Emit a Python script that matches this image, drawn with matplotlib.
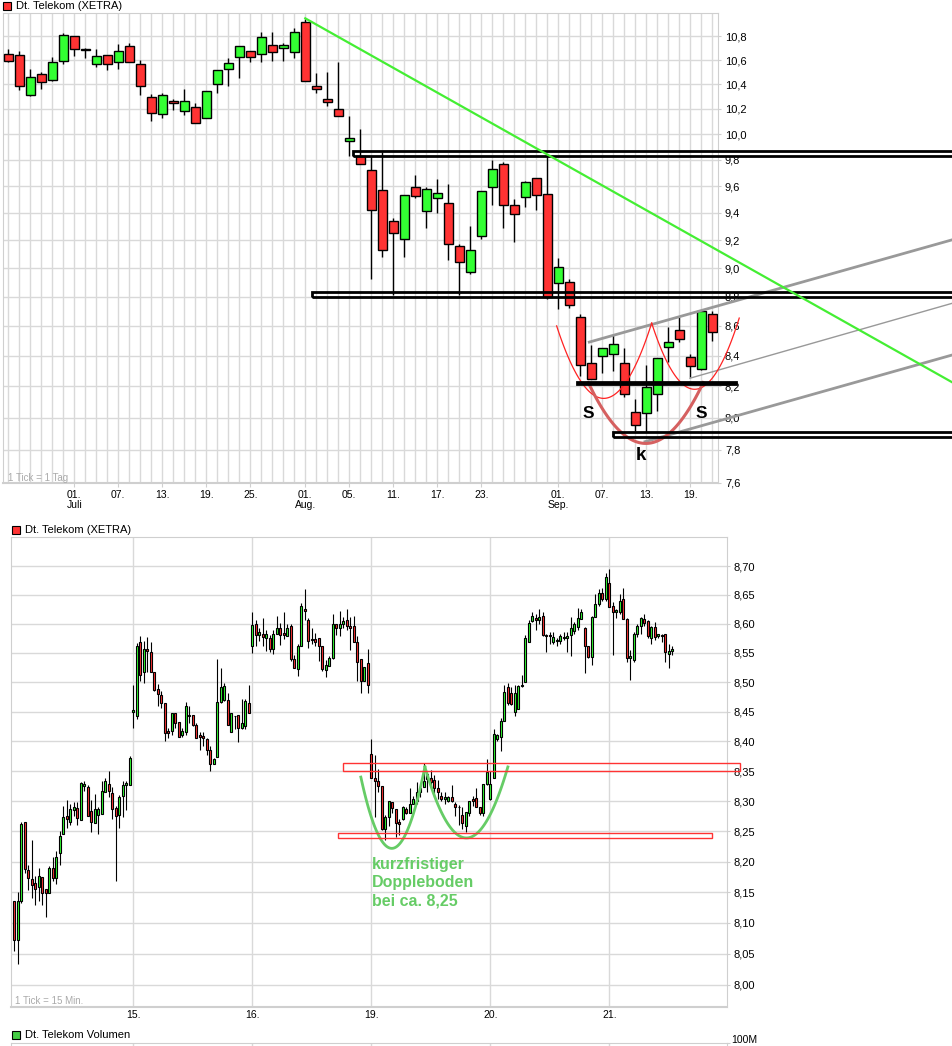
import numpy as np
import matplotlib
matplotlib.use('Agg')
import matplotlib.pyplot as plt
from matplotlib.patches import Rectangle
from matplotlib.ticker import FixedLocator, NullLocator, FuncFormatter

plt.rcParams['font.family'] = ['Liberation Sans', 'DejaVu Sans']

W, H = 953, 1046
RED = '#ff3333'
GREEN = '#33ff33'
GRID = '#d9d9d9'
FRAME = '#cfcfcf'

# ---- daily candles, 23.06.2011 - 21.09.2011 (one per trading day) ----
d_open = [10.655, 10.645, 10.315, 10.485, 10.435, 10.595, 10.805, 10.692, 10.565, 10.645,
          10.588, 10.722, 10.57, 10.297, 10.16, 10.263, 10.185, 10.217, 10.13, 10.40,
          10.525, 10.625, 10.68, 10.647, 10.73, 10.705, 10.67, 10.925, 10.385, 10.277,
          10.20, 9.95, 9.83, 9.72, 9.572, 9.337, 9.205, 9.595, 9.41, 9.51,
          9.475, 9.16, 8.975, 9.23, 9.595, 9.77, 9.46, 9.52, 9.66, 9.54,
          8.895, 8.90, 8.66, 8.35, 8.40, 8.41, 8.35, 8.035, 8.03, 8.15,
          8.46, 8.57, 8.39, 8.31, 8.68]
d_high = [10.69, 10.675, 10.523, 10.50, 10.625, 10.83, 10.805, 10.70, 10.69, 10.645,
          10.733, 10.745, 10.598, 10.32, 10.33, 10.28, 10.365, 10.25, 10.345, 10.515,
          10.615, 10.715, 10.68, 10.84, 10.84, 10.747, 10.874, 10.945, 10.49, 10.50,
          10.58, 10.14, 10.04, 9.83, 9.86, 9.36, 9.535, 9.68, 9.595, 9.655,
          9.615, 9.175, 9.30, 9.566, 9.80, 9.785, 9.50, 9.64, 9.66, 9.83,
          9.07, 8.925, 8.683, 8.47, 8.45, 8.54, 8.45, 8.12, 8.34, 8.385,
          8.59, 8.66, 8.41, 8.70, 8.70]
d_low = [10.58, 10.355, 10.305, 10.358, 10.427, 10.57, 10.635, 10.62, 10.545, 10.518,
         10.53, 10.58, 10.313, 10.102, 10.13, 10.19, 10.15, 10.09, 10.13, 10.33,
         10.385, 10.455, 10.585, 10.587, 10.595, 10.595, 10.62, 10.43, 10.33, 10.22,
         10.14, 9.83, 9.77, 8.92, 9.08, 8.81, 9.08, 9.51, 9.29, 9.40,
         9.06, 8.81, 8.955, 9.205, 9.46, 9.285, 9.19, 9.44, 9.42, 8.785,
         8.713, 8.72, 8.27, 8.25, 8.285, 8.30, 8.13, 7.92, 7.91, 8.04,
         8.36, 8.49, 8.26, 8.305, 8.50]
d_close = [10.59, 10.385, 10.462, 10.42, 10.587, 10.815, 10.695, 10.688, 10.635, 10.57,
           10.672, 10.58, 10.385, 10.17, 10.31, 10.25, 10.265, 10.09, 10.345, 10.515,
           10.575, 10.715, 10.625, 10.797, 10.67, 10.727, 10.84, 10.43, 10.36, 10.258,
           10.14, 9.968, 9.77, 9.42, 9.13, 9.25, 9.535, 9.527, 9.58, 9.55,
           9.175, 9.04, 9.13, 9.566, 9.73, 9.46, 9.39, 9.63, 9.535, 8.80,
           9.005, 8.743, 8.34, 8.25, 8.45, 8.48, 8.15, 7.955, 8.195, 8.385,
           8.49, 8.51, 8.33, 8.70, 8.56]
d_tick_pos = [6, 10, 14, 18, 22, 27, 31, 35, 39, 43, 50, 54, 58, 62]
d_tick_lbl = ['01.\nJuli', '07.', '13.', '19.', '25.', '01.\nAug.', '05.', '11.', '17.',
              '23.', '01.\nSep.', '07.', '13.', '19.']
d_yticks = [7.6, 7.8, 8.0, 8.2, 8.4, 8.6, 8.8, 9.0, 9.2, 9.4, 9.6, 9.8, 10.0, 10.2,
            10.4, 10.6, 10.8]

# ---- 15-minute candles, 14.09. - 21.09.2011 (34 per day) ----
m_open = [
    8.136, 8.073, 8.135, 8.265, 8.187, 8.171, 8.165, 8.158, 8.175, 8.155, 8.148, 8.189, 8.174, 8.215, 8.245, 8.275, 8.265,
    8.285, 8.289, 8.268, 8.325, 8.324, 8.283, 8.263, 8.277, 8.278, 8.315, 8.329, 8.314, 8.289, 8.277, 8.309, 8.327, 8.327,
    8.450, 8.442, 8.568, 8.517, 8.557, 8.551, 8.517, 8.489, 8.478, 8.465, 8.417, 8.417, 8.447, 8.433, 8.411, 8.416, 8.444,
    8.445, 8.427, 8.410, 8.409, 8.404, 8.385, 8.362, 8.373, 8.467, 8.470, 8.470, 8.415, 8.443, 8.444, 8.422, 8.426, 8.465,
    8.561, 8.600, 8.580, 8.583, 8.575, 8.575, 8.556, 8.582, 8.593, 8.584, 8.579, 8.596, 8.539, 8.522, 8.562, 8.626, 8.607,
    8.574, 8.574, 8.576, 8.561, 8.521, 8.527, 8.541, 8.599, 8.593, 8.600, 8.606, 8.596, 8.596, 8.568, 8.540, 8.502, 8.532,
    8.378, 8.339, 8.333, 8.325, 8.254, 8.273, 8.298, 8.287, 8.265, 8.270, 8.287, 8.281, 8.296, 8.301, 8.315, 8.323, 8.346,
    8.338, 8.335, 8.322, 8.308, 8.303, 8.301, 8.307, 8.295, 8.291, 8.277, 8.258, 8.280, 8.304, 8.305, 8.291, 8.280, 8.328,
    8.303, 8.338, 8.404, 8.408, 8.435, 8.491, 8.482, 8.449, 8.455, 8.493, 8.500, 8.569, 8.604, 8.610, 8.606, 8.613, 8.581,
    8.581, 8.569, 8.570, 8.570, 8.578, 8.575, 8.581, 8.587, 8.595, 8.609, 8.593, 8.561, 8.543, 8.612, 8.634, 8.654, 8.643,
    8.671, 8.630, 8.621, 8.620, 8.643, 8.609, 8.541, 8.538, 8.583, 8.596, 8.608, 8.604, 8.575, 8.595, 8.579, 8.581, 8.583,
    8.548, 8.554]
m_high = [
    8.136, 8.151, 8.265, 8.265, 8.195, 8.235, 8.177, 8.190, 8.175, 8.155, 8.193, 8.208, 8.218, 8.250, 8.292, 8.302, 8.296,
    8.298, 8.298, 8.331, 8.334, 8.326, 8.302, 8.311, 8.291, 8.334, 8.338, 8.351, 8.323, 8.292, 8.310, 8.334, 8.334, 8.376,
    8.495, 8.567, 8.579, 8.570, 8.578, 8.568, 8.517, 8.497, 8.485, 8.465, 8.423, 8.448, 8.447, 8.433, 8.423, 8.467, 8.460,
    8.445, 8.431, 8.415, 8.416, 8.406, 8.392, 8.372, 8.540, 8.524, 8.498, 8.481, 8.447, 8.443, 8.444, 8.471, 8.471, 8.496,
    8.620, 8.607, 8.593, 8.610, 8.590, 8.580, 8.590, 8.614, 8.601, 8.620, 8.599, 8.599, 8.547, 8.565, 8.635, 8.660, 8.610,
    8.593, 8.584, 8.576, 8.561, 8.538, 8.544, 8.616, 8.599, 8.622, 8.612, 8.626, 8.612, 8.614, 8.579, 8.540, 8.526, 8.556,
    8.404, 8.377, 8.354, 8.325, 8.277, 8.301, 8.299, 8.287, 8.270, 8.292, 8.290, 8.321, 8.309, 8.332, 8.325, 8.364, 8.349,
    8.352, 8.344, 8.335, 8.315, 8.315, 8.308, 8.326, 8.298, 8.293, 8.290, 8.282, 8.300, 8.308, 8.321, 8.291, 8.328, 8.371,
    8.350, 8.420, 8.413, 8.439, 8.496, 8.499, 8.491, 8.496, 8.496, 8.513, 8.581, 8.606, 8.620, 8.617, 8.626, 8.620, 8.583,
    8.585, 8.586, 8.575, 8.582, 8.585, 8.586, 8.612, 8.603, 8.627, 8.626, 8.595, 8.562, 8.614, 8.651, 8.660, 8.662, 8.687,
    8.694, 8.637, 8.626, 8.651, 8.662, 8.610, 8.555, 8.585, 8.600, 8.612, 8.617, 8.606, 8.597, 8.603, 8.583, 8.582, 8.583,
    8.565, 8.562]
m_low = [
    8.054, 8.034, 8.132, 8.182, 8.153, 8.141, 8.129, 8.136, 8.129, 8.109, 8.148, 8.169, 8.163, 8.195, 8.245, 8.255, 8.260,
    8.275, 8.261, 8.268, 8.317, 8.275, 8.249, 8.263, 8.246, 8.278, 8.315, 8.306, 8.270, 8.168, 8.255, 8.273, 8.285, 8.327,
    8.422, 8.438, 8.502, 8.498, 8.517, 8.517, 8.485, 8.460, 8.457, 8.400, 8.406, 8.411, 8.423, 8.407, 8.407, 8.411, 8.431,
    8.426, 8.406, 8.385, 8.392, 8.377, 8.351, 8.362, 8.373, 8.465, 8.468, 8.428, 8.415, 8.420, 8.398, 8.420, 8.421, 8.447,
    8.550, 8.561, 8.570, 8.561, 8.553, 8.552, 8.548, 8.582, 8.563, 8.573, 8.579, 8.536, 8.525, 8.511, 8.561, 8.607, 8.559,
    8.565, 8.561, 8.536, 8.519, 8.508, 8.527, 8.539, 8.580, 8.579, 8.593, 8.590, 8.555, 8.569, 8.502, 8.482, 8.502, 8.482,
    8.339, 8.274, 8.315, 8.252, 8.236, 8.258, 8.280, 8.241, 8.244, 8.269, 8.279, 8.281, 8.295, 8.295, 8.306, 8.323, 8.315,
    8.321, 8.306, 8.304, 8.301, 8.295, 8.298, 8.298, 8.275, 8.260, 8.254, 8.248, 8.275, 8.292, 8.291, 8.277, 8.275, 8.326,
    8.302, 8.338, 8.401, 8.383, 8.435, 8.462, 8.462, 8.442, 8.455, 8.491, 8.500, 8.569, 8.603, 8.589, 8.600, 8.579, 8.551,
    8.566, 8.566, 8.562, 8.566, 8.572, 8.552, 8.545, 8.582, 8.589, 8.608, 8.516, 8.541, 8.530, 8.612, 8.631, 8.640, 8.640,
    8.629, 8.547, 8.610, 8.617, 8.609, 8.534, 8.503, 8.534, 8.578, 8.583, 8.597, 8.575, 8.566, 8.572, 8.575, 8.569, 8.534,
    8.525, 8.547]
m_close = [
    8.073, 8.136, 8.262, 8.188, 8.173, 8.162, 8.156, 8.177, 8.148, 8.149, 8.189, 8.174, 8.208, 8.242, 8.273, 8.270, 8.287,
    8.291, 8.272, 8.330, 8.329, 8.275, 8.265, 8.287, 8.287, 8.316, 8.334, 8.317, 8.287, 8.275, 8.307, 8.327, 8.330, 8.372,
    8.453, 8.561, 8.512, 8.557, 8.553, 8.517, 8.486, 8.480, 8.465, 8.414, 8.414, 8.448, 8.430, 8.407, 8.417, 8.459, 8.442,
    8.427, 8.406, 8.407, 8.406, 8.385, 8.362, 8.370, 8.467, 8.491, 8.493, 8.428, 8.447, 8.442, 8.422, 8.430, 8.468, 8.447,
    8.598, 8.580, 8.585, 8.578, 8.582, 8.556, 8.582, 8.593, 8.580, 8.580, 8.593, 8.539, 8.525, 8.561, 8.630, 8.622, 8.570,
    8.572, 8.569, 8.561, 8.522, 8.529, 8.541, 8.600, 8.593, 8.599, 8.605, 8.597, 8.593, 8.569, 8.534, 8.502, 8.526, 8.495,
    8.339, 8.334, 8.325, 8.253, 8.273, 8.301, 8.288, 8.264, 8.262, 8.290, 8.280, 8.296, 8.303, 8.315, 8.322, 8.333, 8.336,
    8.332, 8.321, 8.315, 8.303, 8.307, 8.307, 8.300, 8.290, 8.290, 8.263, 8.282, 8.300, 8.300, 8.291, 8.280, 8.328, 8.349,
    8.329, 8.413, 8.410, 8.435, 8.483, 8.465, 8.463, 8.482, 8.493, 8.496, 8.575, 8.601, 8.614, 8.606, 8.612, 8.581, 8.579,
    8.579, 8.578, 8.572, 8.579, 8.576, 8.579, 8.592, 8.600, 8.610, 8.620, 8.562, 8.543, 8.612, 8.634, 8.654, 8.642, 8.681,
    8.629, 8.620, 8.623, 8.640, 8.609, 8.541, 8.545, 8.583, 8.597, 8.610, 8.602, 8.579, 8.595, 8.578, 8.582, 8.579, 8.551,
    8.553, 8.556]
m_day_pos = [34, 68, 102, 136, 170]
m_day_lbl = ['15.', '16.', '19.', '20.', '21.']
m_yticks = [8.00, 8.05, 8.10, 8.15, 8.20, 8.25, 8.30, 8.35, 8.40, 8.45, 8.50, 8.55, 8.60, 8.65, 8.70]

# ---- drawn annotations (index, price) ----
zones = [(31.3, 87, 9.828, 9.867), (27.6, 87, 8.801, 8.834),
         (51.7, 66.2, 8.216, 8.231), (55.0, 87, 7.882, 7.911)]
trend_x, trend_y = [27.0, 85.9], [10.954, 8.223]
channel = [([52.82, 85.88], [8.491, 9.204], 2.0),
           ([61.97, 85.85], [8.253, 8.755], 1.0),
           ([57.88, 85.85], [7.851, 8.406], 2.0)]
shoulder_l = [(49.85, 8.600), (53.95, 8.124), (58.49, 8.619)]
shoulder_r = [(58.49, 8.619), (62.27, 8.182), (66.45, 8.653)]
head = [(52.73, 8.225), (57.73, 7.841), (63.18, 8.225)]
boxes = [(94.0, 207.3, 8.350, 8.364), (92.6, 199.3, 8.239, 8.247)]
bottom_l = [(99.0, 8.340), (109.7, 8.227), (117.3, 8.357)]
bottom_r = [(117.3, 8.357), (129.3, 8.239), (141.0, 8.357)]


def fx(x):
    return x / W


def fy(y):
    return 1 - y / H


def candles(ax, o, h, l, c, width, lw):
    o, h, l, c = map(np.asarray, (o, h, l, c))
    x = np.arange(len(o))
    ax.vlines(x, l, h, color='black', lw=lw, zorder=2)
    cols = np.where(c >= o, GREEN, RED)
    ax.bar(x, np.abs(c - o), width, bottom=np.minimum(o, c), color=cols,
           edgecolor='black', linewidth=lw, zorder=3)


def bowl(ax, pts, **kw):
    xs, ps = zip(*pts)
    coef = np.polyfit(xs, np.log(ps), 2)
    xx = np.linspace(xs[0], xs[-1], 80)
    ax.plot(xx, np.exp(np.polyval(coef, xx)), clip_on=False, zorder=5, **kw)


def style(ax):
    ax.set_axisbelow(True)
    for s in ax.spines.values():
        s.set_color(FRAME)
    ax.spines['bottom'].set_linewidth(1.5)
    ax.yaxis.tick_right()
    ax.yaxis.set_minor_locator(NullLocator())
    ax.tick_params(axis='y', length=2, pad=3, labelsize=8, color=FRAME)


fig = plt.figure(figsize=(W / 100, H / 100), dpi=100)

# ---- top: daily chart ----
ax1 = fig.add_axes([fx(3), fy(483), 715 / W, 470 / H])
ax1.set_yscale('log')
candles(ax1, d_open, d_high, d_low, d_close, 0.85, 1.0)
ax1.set_xlim(-0.48, 64.52)
ax1.set_ylim(7.6, 11.0)
style(ax1)
ax1.yaxis.set_major_locator(FixedLocator(d_yticks))
ax1.yaxis.set_major_formatter(FuncFormatter(lambda v, p: f'{v:.1f}'.replace('.', ',')))
ax1.set_xticks(d_tick_pos)
ax1.set_xticklabels(d_tick_lbl, fontsize=7.5, linespacing=1.05)
ax1.set_xticks(range(65), minor=True)
ax1.tick_params(axis='x', which='major', length=3, color=FRAME, pad=2)
ax1.tick_params(axis='x', which='minor', length=0)
ax1.grid(True, which='both', axis='x', color=GRID, lw=1)
ax1.grid(True, which='major', axis='y', color=GRID, lw=1)

for x0, x1, lo, hi in zones:
    ax1.add_patch(Rectangle((x0, lo), x1 - x0, hi - lo, fill=False, ec='black',
                            lw=2.0, clip_on=False, zorder=6))
ax1.plot(trend_x, trend_y, color='#44ee33', lw=1.6, clip_on=False, zorder=6)
for xs, ys, lw in channel:
    ax1.plot(xs, ys, color='#999999', lw=lw, clip_on=False, zorder=5)
bowl(ax1, shoulder_l, color='#ff2222', lw=0.9)
bowl(ax1, shoulder_r, color='#ff2222', lw=0.9)
bowl(ax1, head, color='#d56060', lw=2.2)

fig.text(fx(588.5), fy(414), 'S', fontsize=12.5, fontweight='bold', ha='center', va='center')
fig.text(fx(701), fy(414), 'S', fontsize=12.5, fontweight='bold', ha='center', va='center')
fig.text(fx(641), fy(456), 'k', fontsize=13.5, fontweight='bold', ha='center', va='center')
fig.text(fx(8), fy(478), '1 Tick = 1 Tag', fontsize=7, color='#aaaaaa', va='center')

# ---- bottom: 15-minute chart ----
ax2 = fig.add_axes([fx(11), fy(1007), 716 / W, 470 / H])
ax2.set_yscale('log')
candles(ax2, m_open, m_high, m_low, m_close, 0.62, 0.8)
ax2.set_xlim(-0.94, 203.6)
ax2.set_ylim(7.9648, 8.7507)
style(ax2)
ax2.yaxis.set_major_locator(FixedLocator(m_yticks))
ax2.yaxis.set_major_formatter(FuncFormatter(lambda v, p: f'{v:.2f}'.replace('.', ',')))
ax2.set_xticks(m_day_pos)
ax2.set_xticklabels(m_day_lbl, fontsize=7.5)
ax2.tick_params(axis='x', length=0, pad=2)
ax2.grid(True, which='major', color=GRID, lw=1)

for x0, x1, lo, hi in boxes:
    ax2.add_patch(Rectangle((x0, lo), x1 - x0, hi - lo, fill=False, ec='#ff3333',
                            lw=1.0, clip_on=False, zorder=6))
bowl(ax2, bottom_l, color='#66cc66', lw=2.0)
bowl(ax2, bottom_r, color='#66cc66', lw=2.0)
for i, line in enumerate(['kurzfristiger', 'Doppleboden', 'bei ca. 8,25']):
    fig.text(fx(372), fy(864 + 18.5 * i), line, fontsize=11.5, fontweight='bold',
             color='#66cc66', va='center')
fig.text(fx(15), fy(1001), '1 Tick = 15 Min.', fontsize=7, color='#aaaaaa', va='center')

# ---- volume panel (cut off at the bottom edge) ----
ax3 = fig.add_axes([fx(11), -0.05, 716 / W, 0.05 + fy(1043)])
ax3.set_xlim(-0.94, 203.6)
ax3.set_ylim(0, 100)
ax3.set_xticks(m_day_pos)
ax3.set_xticklabels([])
ax3.set_yticks([100])
ax3.set_yticklabels([])
ax3.yaxis.tick_right()
ax3.tick_params(axis='y', length=2, color=FRAME)
ax3.tick_params(axis='x', length=0)
ax3.grid(True, axis='x', color=GRID, lw=1)
for s in ax3.spines.values():
    s.set_color(FRAME)
fig.text(fx(731), fy(1040), '100M', fontsize=7.5, va='center')

# ---- legend boxes ----
for (x, y, col, txt) in [(3, 6, RED, 'Dt. Telekom (XETRA)'),
                         (12, 530, RED, 'Dt. Telekom (XETRA)'),
                         (12, 1035, '#44cc44', 'Dt. Telekom Volumen')]:
    fig.add_artist(Rectangle((fx(x), fy(y + 4)), 8 / W, 8 / H, transform=fig.transFigure,
                             fc=col, ec='black', lw=0.8))
    fig.text(fx(x + 13), fy(y), txt, fontsize=8, va='center')

fig.savefig('out.png', dpi=100)
